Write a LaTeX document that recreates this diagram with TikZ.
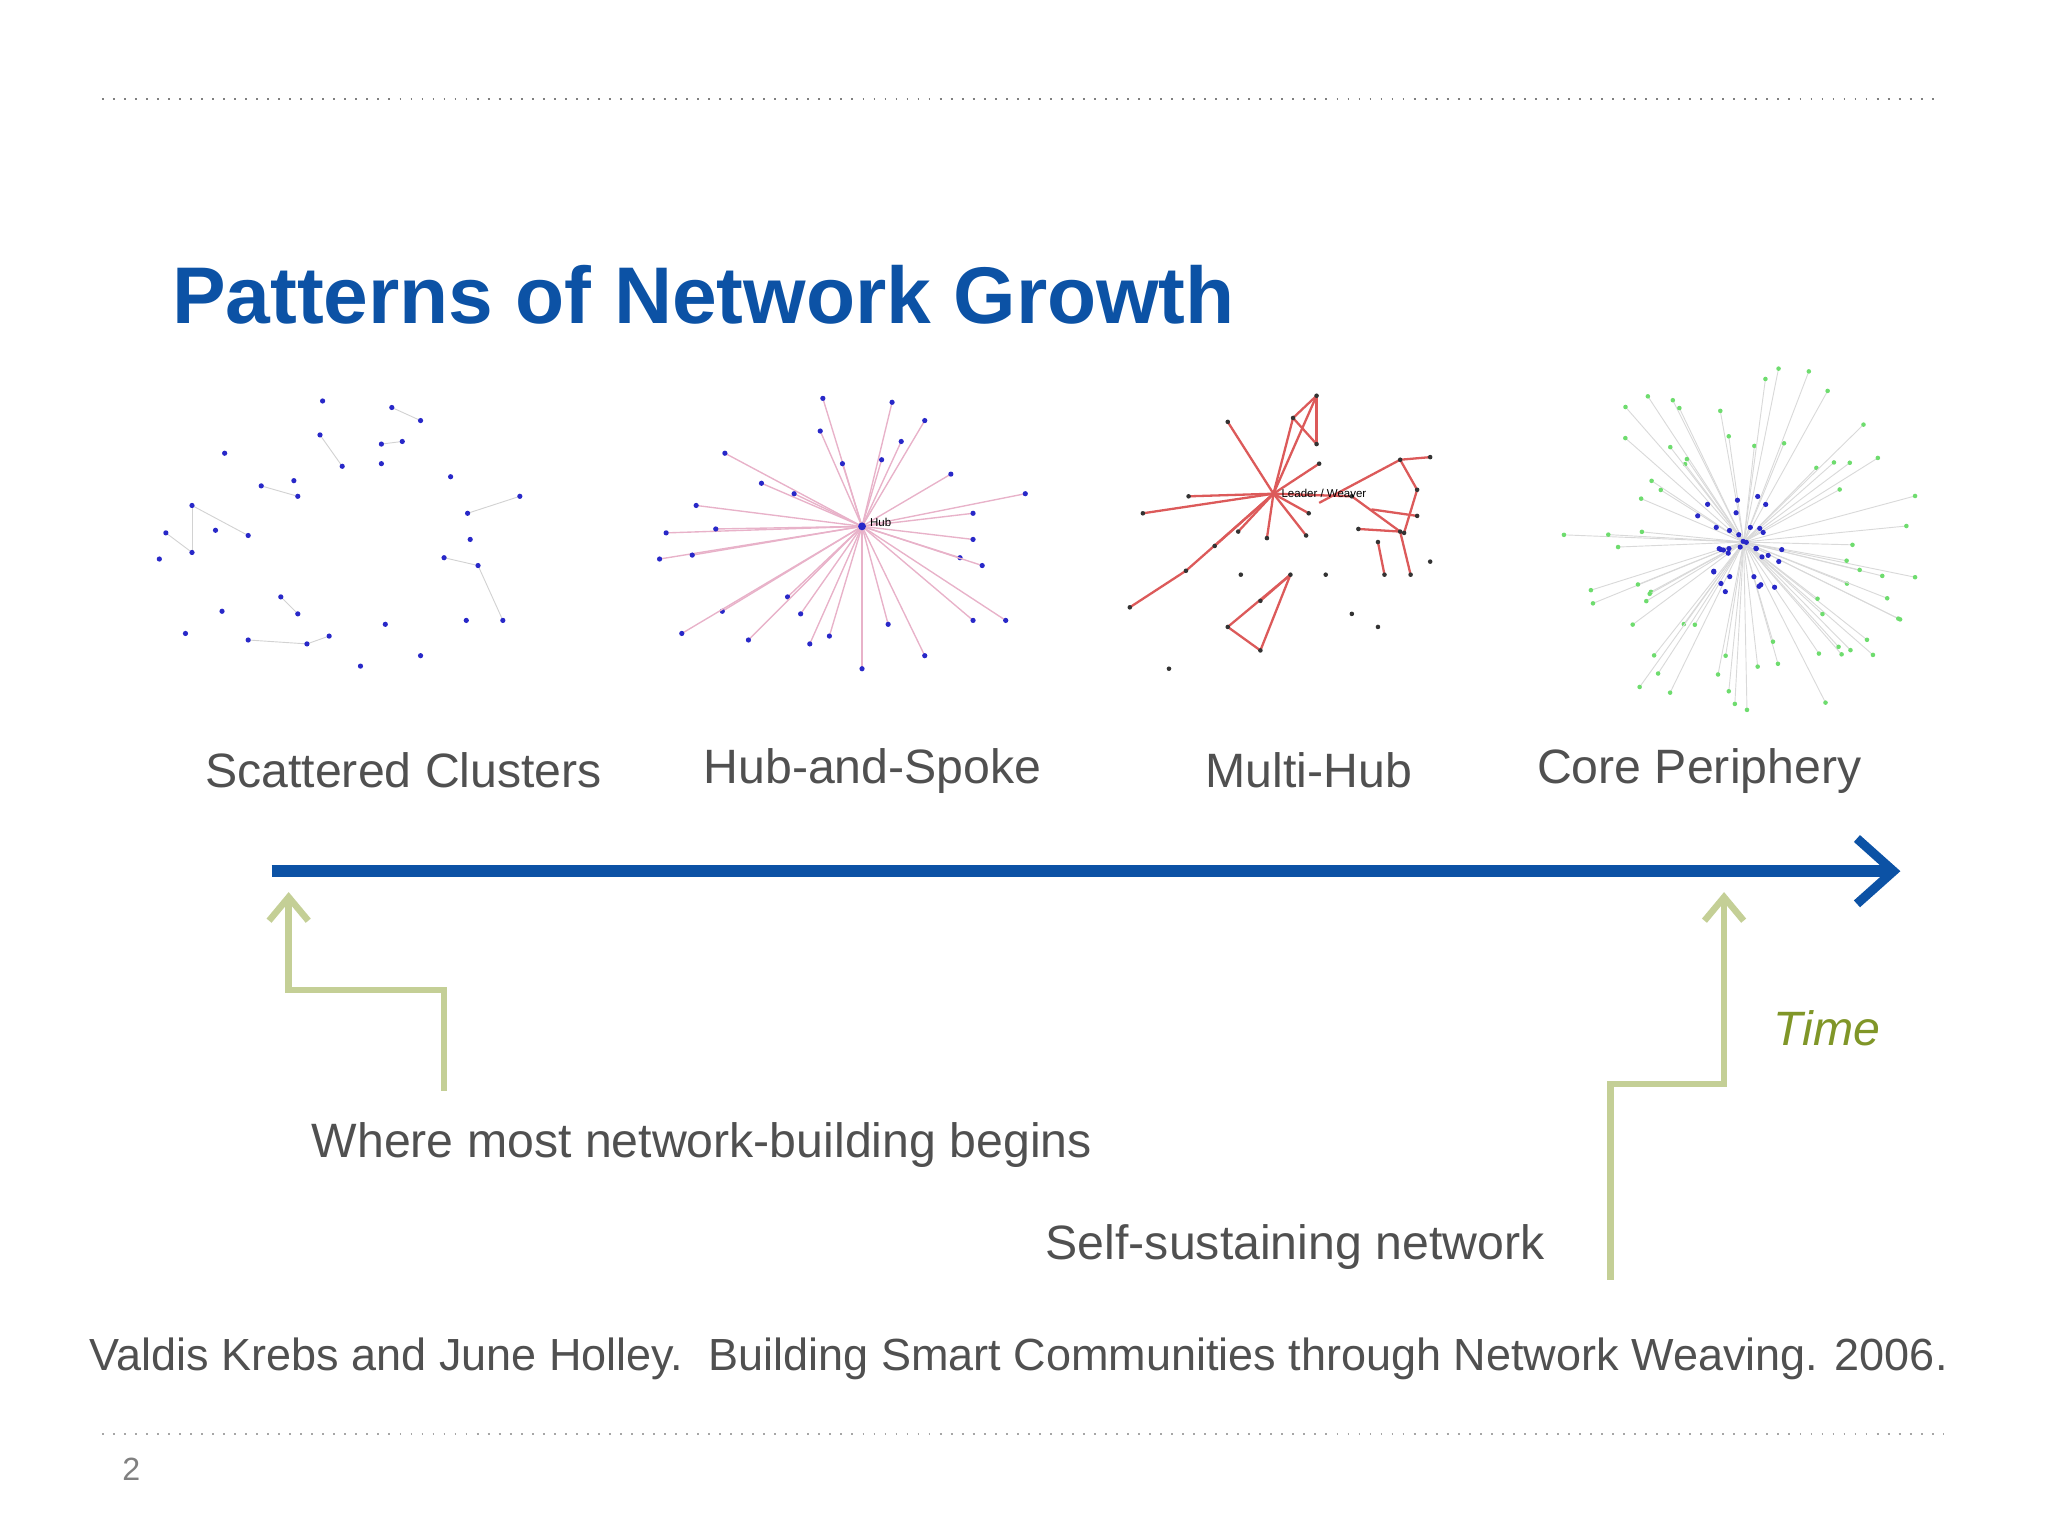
\documentclass[tikz,border=0pt]{standalone}
\usepackage{fontspec}
\setmainfont{Liberation Sans}
\usetikzlibrary{arrows.meta,calc}
\definecolor{tblue}{RGB}{12,82,165}
\definecolor{tgreen}{RGB}{196,207,150}
\definecolor{timec}{RGB}{128,150,40}
\definecolor{txt}{RGB}{80,80,80}
\definecolor{dotb}{RGB}{40,40,200}
\definecolor{dotg}{RGB}{110,220,110}
\definecolor{redl}{RGB}{220,90,90}
\tikzset{lab/.style={text=txt,font=\fontsize{10.5pt}{12pt}\selectfont,inner sep=0},
 gar/.style={tgreen,line width=0.05cm,-{Straight Barb[length=0.18cm,width=0.3cm]}},
 bd/.style={fill=dotb,circle,inner sep=0,minimum size=0.04cm},
 gl/.style={gray!35,line width=0.2pt}}
\begin{document}
\begin{tikzpicture}[x=0.01cm,y=-0.01cm]
\useasboundingbox (0,0) rectangle (1568,1176);
\draw[gray,dotted,line width=0.4pt] (78,76) -- (1485,76);
\draw[gray!70,dotted,line width=0.4pt] (78,1098) -- (1488,1098);
\node[anchor=west,text=tblue,font=\bfseries\fontsize{17.5pt}{20pt}\selectfont,inner sep=0] (title) at (131,226) {Patterns of Network Growth};
% scattered clusters
\foreach \xa/\ya/\xb/\yb in {147/387/147/423, 147/387/190/410, 127/408/147/423, 245/333/262/357, 300/312/322/322, 292/340/308/338, 200/372/228/380, 358/393/398/380, 340/427/366/433, 366/433/385/475, 215/457/228/470, 190/490/235/493, 235/493/252/487}
  \draw[gl] (\xa,\ya) -- (\xb,\yb);
\foreach \p in {(247,307),(245,333),(262,357),(300,312),(322,322),(292,340),(308,338),(292,355),(172,347),(200,372),(228,380),(225,368),(147,387),(127,408),(122,428),(147,423),(165,406),(190,410),(358,393),(398,380),(345,365),(360,413),(340,427),(366,433),(385,475),(357,475),(170,468),(142,485),(215,457),(228,470),(190,490),(235,493),(252,487),(295,478),(322,502),(276,510)}
  \node[bd] at \p {};
% hub and spoke
\foreach \p in {(630,305),(628,330),(645,355),(683,308),(708,322),(690,338),(675,352),(555,347),(583,370),(608,378),(533,387),(510,408),(505,428),(530,425),(548,405),(745,393),(785,378),(728,363),(745,413),(735,427),(752,433),(770,475),(745,475),(553,468),(522,485),(603,457),(613,470),(573,490),(620,493),(635,487),(660,512),(708,502),(680,478)}
  { \draw[red!40!violet!30,line width=0.3pt] (660,403) -- \p; \node[bd] at \p {}; }
\node[bd,minimum size=0.06cm] (hub) at (660,403) {};
\node[anchor=west,font=\fontsize{2.5pt}{3pt}\selectfont,inner sep=1pt] at (662,400) {Hub};
% multi-hub
\foreach \xa/\ya/\xb/\yb in {975/378/910/380, 975/378/875/393, 975/378/940/323, 975/378/1008/303, 975/378/990/320, 975/378/1010/355, 975/378/948/407, 975/378/930/418, 975/378/1000/410, 990/320/1008/303, 990/320/1008/340, 1008/303/1008/340, 975/378/1035/380, 1010/385/1072/352, 1072/352/1085/375, 1072/352/1095/350, 1040/405/1072/407, 1035/380/1072/407, 1072/407/1080/440, 1055/415/1060/440, 908/437/865/465, 975/378/908/437, 940/480/965/498, 965/498/988/440, 940/480/988/440, 965/460/988/440, 1085/375/1075/408, 1050/390/1085/395, 975/378/970/412, 975/378/1002/393}
  \draw[redl,line width=0.5pt] (\xa,\ya) -- (\xb,\yb);
\foreach \p in {(910,380),(875,393),(940,323),(1008,303),(990,320),(1010,355),(948,407),(930,418),(1000,410),(1008,340),(1035,380),(1072,352),(1085,375),(1095,350),(1040,405),(1072,407),(1080,440),(1055,415),(1060,440),(908,437),(865,465),(940,480),(965,498),(988,440),(965,460),(1075,408),(1085,395),(970,412),(1002,393),(1035,470),(1015,440),(1095,430),(950,440),(895,512),(1055,480)}
  \node[circle,fill=black!80,inner sep=0,minimum size=0.035cm] at \p {};
\node[anchor=west,font=\fontsize{2.5pt}{3pt}\selectfont,inner sep=1pt] at (977,378) {Leader / Weaver};
% core periphery
\pgfmathsetseed{7}
\foreach \i in {1,...,70}{
  \pgfmathsetmacro{\ang}{rnd*360}\pgfmathsetmacro{\rr}{70+rnd*70}
  \draw[gray!30,line width=0.2pt] (1335,415) -- ++(\ang:\rr);
  \node[circle,fill=dotg,inner sep=0,minimum size=0.035cm] at ($(1335,415)+(\ang:\rr)$) {};}
\foreach \i in {1,...,35}{
  \pgfmathsetmacro{\ang}{rnd*360}\pgfmathsetmacro{\rr}{rnd*42}
  \node[bd] at ($(1335,415)+(\ang:\rr)$) {};}
% labels
\node[lab] (l1) at (309,590) {Scattered Clusters};
\node[lab] (l2) at (668,590) {Hub-and-Spoke};
\node[lab] (l3) at (1002,590) {Multi-Hub};
\node[lab] (l4) at (1301,590) {Core Periphery};
% timeline
\coordinate (t0) at (208,667); \coordinate (t1) at (1455,667);
\draw[tblue,line width=0.09cm,-{Straight Barb[length=0.28cm,width=0.5cm,line width=0.07cm]}] (t0) -- (t1);
\node[anchor=west,text=timec,font=\itshape\fontsize{10.5pt}{12pt}\selectfont,inner sep=0] (time) at (1357,787) {Time};
\coordinate (a0) at (340,835); \coordinate (a1) at (221,683);
\draw[gar] (a0) |- (280,758) -| (a1);
\coordinate (b0) at (1233,980); \coordinate (b1) at (1320,683);
\draw[gar] (b0) |- (1280,830) -| (b1);
\node[lab,anchor=west] (w) at (238,877) {Where most network-building begins};
\node[lab,anchor=west] (s) at (800,955) {Self-sustaining network};
\node[lab,anchor=west,font=\fontsize{9.8pt}{12pt}\selectfont] (cite) at (68,1040) {Valdis Krebs and June Holley.\ \ Building Smart Communities through Network Weaving. 2006.};
\node[anchor=west,text=gray,font=\fontsize{7pt}{8pt}\selectfont,inner sep=0] (pg) at (93,1125) {2};
\end{tikzpicture}
\end{document}
